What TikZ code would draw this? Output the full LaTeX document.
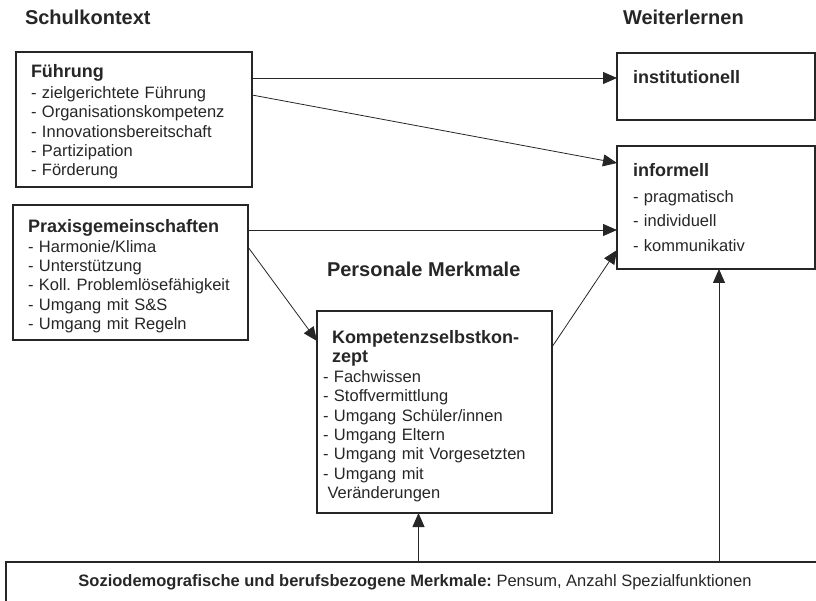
\documentclass[tikz,border=0pt]{standalone}
\usepackage{fontspec}
\setmainfont{Liberation Sans}
\usetikzlibrary{positioning,arrows.meta}
\colorlet{ink}{black!85}
\frenchspacing
\newcommand{\boxtitle}[1]{\textbf{\fontsize{18}{19.3}\selectfont #1}}

\begin{document}
\begin{tikzpicture}
[x=1pt,y=-1pt,
 every node/.style={text=ink,inner sep=0pt,outer sep=0pt},
 head/.style={anchor=base west,font=\bfseries\fontsize{20}{24}\selectfont},
 box/.style={draw=ink,line width=1.3pt,anchor=north west},
 list/.style={box,align=left,inner xsep=15pt,font=\fontsize{16.5}{19.3}\selectfont},
 arr/.style={draw=ink,line width=0.8pt,-{Triangle[length=14pt,width=12pt]}}]
\clip (0,0) rectangle (816,601);

% headings
\node[head] (schul)  at (25,25)   {Schulkontext};
\node[head] (weiter) at (623,25)  {Weiterlernen};
\node[head] (person) at (327,277) {Personale Merkmale};

% left column
\node[list,text width=206pt,minimum width=236pt,minimum height=135pt] (fuehrung) at (16,52)
  {\rule{0pt}{18pt}\boxtitle{Führung}\\[1.5pt]
   - zielgerichtete Führung\\
   - Organisationskompetenz\\
   - Innovationsbereitschaft\\
   - Partizipation\\
   - Förderung};
\node[list,text width=205pt,minimum width=235pt,minimum height=135pt] (praxis) at (13,205)
  {\rule{0pt}{20pt}\boxtitle{Praxisgemeinschaften}\\[1pt]
   - Harmonie/Klima\\
   - Unterstützung\\
   - Koll. Problemlösefähigkeit\\
   - Umgang mit S\&S\\
   - Umgang mit Regeln};

% middle
\node[list,inner xsep=6pt,text width=223pt,minimum width=235pt,minimum height=202pt] (komp) at (317,311)
  {\rule{0pt}{21pt}\hspace*{9pt}\boxtitle{Kompetenzselbstkon-}\\[0.5pt]
   \hspace*{9pt}\boxtitle{zept}\\[0.5pt]
   - Fachwissen\\
   - Stoffvermittlung\\
   - Umgang Schüler/innen\\
   - Umgang Eltern\\
   - Umgang mit Vorgesetzten\\
   - Umgang mit\\
   \hspace*{4.5pt}Veränderungen};

% right column
\node[box,inner xsep=16pt,text width=166pt,minimum width=198pt,minimum height=67pt,text depth=20pt,
      font=\bfseries\fontsize{18}{20}\selectfont] (inst) at (617,53) {institutionell};
\node[list,inner xsep=16pt,text width=166pt,minimum width=198pt,minimum height=123pt,
      font=\fontsize{16.5}{24.5}\selectfont] (infor) at (617,146)
  {\boxtitle{informell}\\[1.5pt]
   - pragmatisch\\
   - individuell\\
   - kommunikativ};

% bottom
\node[box,line width=2pt,minimum width=824pt,minimum height=40pt,
      font=\fontsize{16.5}{20}\selectfont] (sozio) at (6,562)
  {\hspace*{-6pt}\textbf{Soziodemografische und berufsbezogene Merkmale:} Pensum, Anzahl Spezialfunktionen};

% connectors
\coordinate (f1) at ([yshift=-26pt]fuehrung.north east);
\coordinate (f2) at ([yshift=-43pt]fuehrung.north east);
\coordinate (p1) at ([yshift=-25pt]praxis.north east);
\coordinate (p2) at ([yshift=-42pt]praxis.north east);
\coordinate (k1) at ([yshift=-36pt]komp.north east);
\coordinate (k2) at ([yshift=-30pt]komp.north west);
\coordinate (k3) at ([xshift=-16pt]komp.south);
\coordinate (i1) at ([yshift=-17pt]infor.north west);
\coordinate (i2) at ([yshift=-104pt]infor.north west);
\coordinate (i3) at ([xshift=3pt]infor.south);
\draw[arr] (f1) -- (f1 -| inst.west);
\draw[arr] (f2) -- (i1);
\draw[arr] (p1) -- (p1 -| infor.west);
\draw[arr] (p2) -- (k2);
\draw[arr] (k1) -- (i2);
\draw[arr] (k3 |- sozio.north) -- (k3);
\draw[arr] (i3 |- sozio.north) -- (i3);
\end{tikzpicture}
\end{document}
